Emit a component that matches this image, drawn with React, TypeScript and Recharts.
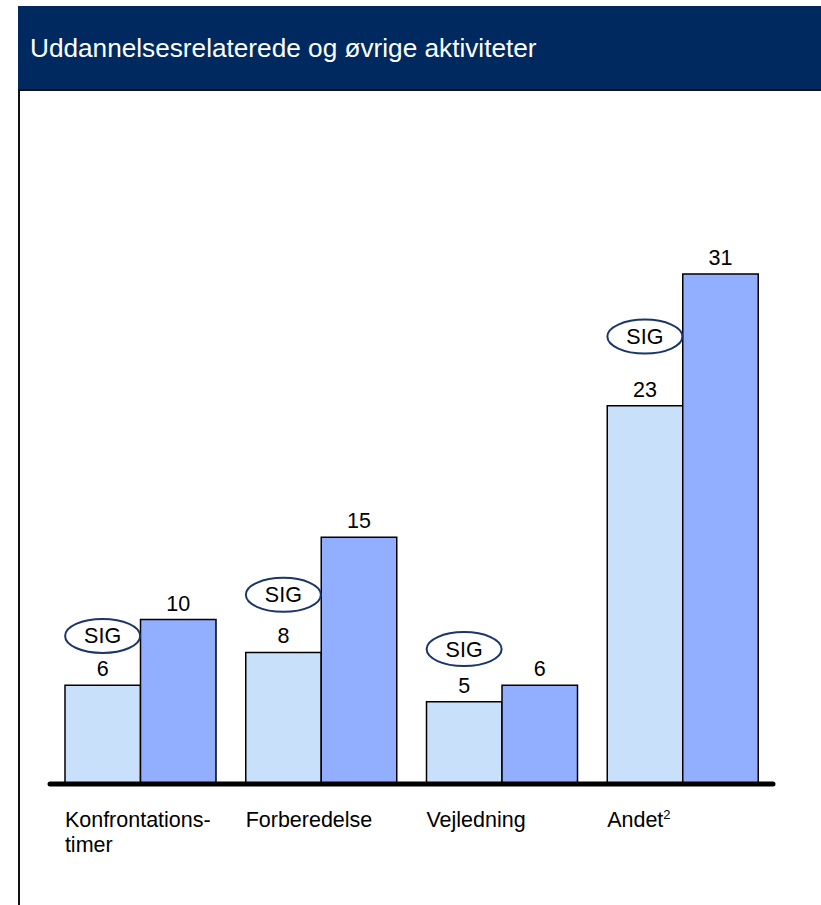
import React from 'react'
import { BarChart, Bar, XAxis, YAxis, LabelList, ReferenceDot } from 'recharts'

// kategorier og værdier
const categories = ['Konfrontations-\ntimer', 'Forberedelse', 'Vejledning', 'Andet']
const superscripts = ['', '', '', '2']
const serie1 = [6, 8, 5, 23]
const serie2 = [10, 15, 6, 31]
// placering (i dataenheder) af "SIG"-markeringerne
const sigLevels = [9, 11.5, 8.2, 27.2]

const data = categories.map((name, i) => ({
    name,
    sup: superscripts[i],
    serie1: serie1[i],
    serie2: serie2[i]
}))

const FONT = '"Liberation Sans", Arial, sans-serif'
const BAR_SIZE = 75.5

const CategoryTick = (props: any) => {
    const { x, y, payload, index } = props
    const lines = String(payload.value).split('\n')
    const sup = superscripts[index] || ''
    return (
        <text x={x - BAR_SIZE} y={y + 43} fontSize={21.5} fontFamily={FONT} fill="#000">
            {lines.map((line, i) => (
                <tspan key={i} x={x - BAR_SIZE} dy={i === 0 ? 0 : 25}>
                    {line}
                </tspan>
            ))}
            {sup ? (
                <tspan fontSize={13} dy={-8}>
                    {sup}
                </tspan>
            ) : null}
        </text>
    )
}

const SigShape = (props: any) => {
    const { cx, cy } = props
    const x = cx - BAR_SIZE / 2
    return (
        <g>
            <ellipse cx={x} cy={cy} rx={37.5} ry={17} fill="none" stroke="#1B3668" strokeWidth={2} />
            <text x={x} y={cy + 7.5} textAnchor="middle" fontSize={21.5} fontFamily={FONT} fill="#000">
                SIG
            </text>
        </g>
    )
}

const App: React.FC = () => {
    return (
        <div style={{ position: 'absolute', left: 0, top: 0, width: 821, height: 905, background: '#fff' }}>
            <div
                style={{
                    position: 'absolute',
                    left: 18,
                    top: 6,
                    width: 803,
                    height: 83,
                    background: '#002A5F',
                    borderBottom: '2px solid #111'
                }}
            >
                <div
                    style={{
                        position: 'absolute',
                        left: 12,
                        top: 27,
                        color: '#fff',
                        fontFamily: FONT,
                        fontSize: 26.2,
                        lineHeight: '30px',
                        whiteSpace: 'nowrap'
                    }}
                >
                    Uddannelsesrelaterede og øvrige aktiviteter
                </div>
            </div>
            <div style={{ position: 'absolute', left: 18, top: 89, width: 2, height: 816, background: '#111' }} />
            <div style={{ position: 'absolute', left: 0, top: 0 }}>
                <BarChart
                    width={821}
                    height={905}
                    data={data}
                    margin={{ top: 126, right: 48, bottom: 0, left: 50 }}
                    barGap={0}
                >
                    <XAxis
                        dataKey="name"
                        height={121}
                        axisLine={{ stroke: '#000', strokeWidth: 5, strokeLinecap: 'round' }}
                        tickLine={false}
                        tickSize={0}
                        tickMargin={0}
                        interval={0}
                        tick={<CategoryTick />}
                    />
                    <YAxis hide domain={[0, 40]} />
                    <Bar dataKey="serie1" barSize={BAR_SIZE} fill="#C8E0FA" stroke="#000" strokeWidth={1.5} isAnimationActive={false}>
                        <LabelList dataKey="serie1" position="top" offset={9} fontSize={21.5} fontFamily={FONT} fill="#000" />
                    </Bar>
                    <Bar dataKey="serie2" barSize={BAR_SIZE} fill="#92AEFE" stroke="#000" strokeWidth={1.5} isAnimationActive={false}>
                        <LabelList dataKey="serie2" position="top" offset={9} fontSize={21.5} fontFamily={FONT} fill="#000" />
                    </Bar>
                    {categories.map((c, i) => (
                        <ReferenceDot key={i} x={c} y={sigLevels[i]} r={0} shape={<SigShape />} />
                    ))}
                </BarChart>
            </div>
        </div>
    )
}

export default App
